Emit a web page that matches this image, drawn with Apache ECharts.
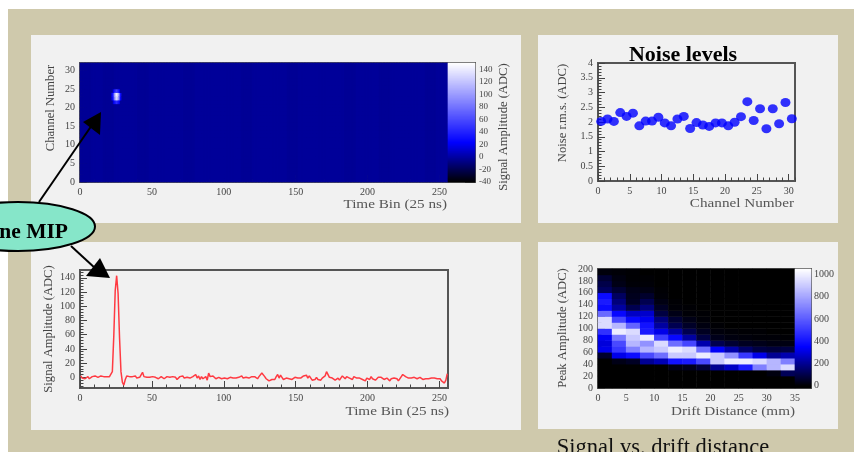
<!DOCTYPE html>
<html>
<head>
<meta charset="utf-8">
<style>html,body{margin:0;padding:0;background:#fff;overflow:hidden}#chart{width:854px;height:452px;filter:blur(0.75px)}</style>
<script src="https://cdn.jsdelivr.net/npm/echarts@6/dist/echarts.min.js"></script>
</head>
<body>
<div id="chart"></div>
<script>
// ---- data ----
const timeTicks = [0, 50, 100, 150, 200, 250];
const channelTicks = [0, 5, 10, 15, 20, 25, 30];
const ampBarTicks = [-40, -20, 0, 20, 40, 60, 80, 100, 120, 140];
const noiseTicks = [0, 0.5, 1, 1.5, 2, 2.5, 3, 3.5, 4];
const noiseChannelTicks = [0, 5, 10, 15, 20, 25, 30];
const waveTicks = [0, 20, 40, 60, 80, 100, 120, 140];
const driftXTicks = [0, 5, 10, 15, 20, 25, 30, 35];
const driftYTicks = [0, 20, 40, 60, 80, 100, 120, 140, 160, 180, 200];
const driftBarTicks = [0, 200, 400, 600, 800, 1000];

// estimated shade of each 8-bin stripe in the channel/time map
const stripeLevels = [-3,-2,-3,-2,-2,-3,-2,-2,-2,-3,-2,-2,-2,-2,-3,-2,-2,-2,-3,-2,-2,-2,-2,-3,-2,-2,-3,-2,-2,-2,-3,-2];
// [time bin, channel, amplitude]
const hotCells = [[22,22,20],[23,22,48],[24,22,104],[25,22,130],[26,22,122],[27,22,66],[28,22,26],
                  [22,23,24],[23,23,56],[24,23,116],[25,23,142],[26,23,134],[27,23,74],[28,23,30],
                  [23,21,18],[24,21,34],[25,21,44],[26,21,38],[27,21,20],
                  [23,24,20],[24,24,40],[25,24,54],[26,24,46],[27,24,22]];

const noiseRms = [2.02,2.10,2.02,2.32,2.19,2.30,1.87,2.03,2.03,2.16,1.97,1.87,2.10,2.19,1.78,1.98,
                  1.90,1.85,1.97,1.97,1.87,1.99,2.18,2.69,2.05,2.45,1.77,2.45,1.94,2.66,2.11];

const waveform = [
 2,-1,0,-2,-3,1,-2,-1,1,0,2,1,0,1,2,1,
 1,2,1,0,1,3,8,58,122,143,118,56,8,-7,-11,-3,
 2,0,1,-1,1,0,2,-1,1,0,2,7,1,-1,0,2,
 0,-1,1,3,0,1,-2,-1,1,0,-2,0,1,-1,0,2,
 1,-1,0,-3,-1,1,0,2,-1,-2,0,1,-1,-2,1,0,
 4,-1,2,-3,1,-2,-3,1,-4,6,1,-1,2,0,-2,-1,
 0,-1,-2,0,-1,-3,-2,-1,0,-2,-1,1,-1,-2,0,1,
 2,-1,1,0,-2,-1,0,1,-1,1,2,-2,1,2,6,7,
 1,-2,-4,-5,-6,-3,-1,-3,1,4,-1,3,0,-3,-2,-1,
 -3,-2,-1,-3,-1,0,-2,-1,1,-1,0,2,1,3,-1,2,
 1,-4,-2,-3,0,-3,-2,-4,-1,-3,2,8,6,0,-2,-1,
 -3,-4,-2,-1,-4,-3,2,1,-2,1,3,-1,-2,-3,1,2,
 -1,-2,-1,1,-3,-2,-5,-1,-2,-3,1,-2,0,-4,-3,0,
 2,0,-2,-3,-4,-1,-3,-5,-2,-4,-1,-3,-2,-5,-4,1,
 4,6,1,0,-1,0,-1,-2,0,-1,-2,-1,0,-2,-3,-1,
 -2,-1,-2,-3,-1,-2,-1,-3,-2,-4,-2,-5,-6,-8,-4,5];

// one list per drift column (2.5 mm wide), from amplitude bin 0-10 up to 190-200
const driftCol00 = [0,0,0,0,0,60,320,300,340,480,950,950,640,380,420,380,130,100,70,15];
const driftCol01 = [0,0,0,0,30,320,500,550,680,1000,850,540,370,220,170,130,70,30,20,10];
const driftCol02 = [0,0,0,0,50,380,700,850,900,950,620,370,270,110,50,40,30,10,5,5];
const driftCol03 = [0,0,0,0,200,550,850,750,1000,420,400,330,280,170,110,60,25,10,5,0];
const driftCol04 = [0,0,0,0,250,650,900,950,520,320,220,170,90,50,25,10,5,0,0,0];
const driftCol05 = [0,0,0,30,400,900,1000,650,370,220,110,70,30,10,5,0,0,0,0,0];
const driftCol06 = [0,0,0,40,420,900,950,540,220,110,55,30,10,5,0,0,0,0,0,0];
const driftCol07 = [0,0,0,80,550,1000,650,240,90,45,20,10,5,0,0,0,0,0,0,0];
const driftCol08 = [0,0,0,200,900,900,340,110,35,15,5,0,0,0,0,0,0,0,0,0];
const driftCol09 = [0,0,0,270,1000,750,230,70,20,10,0,0,0,0,0,0,0,0,0,0];
const driftCol10 = [0,0,0,420,1000,500,140,45,15,5,0,0,0,0,0,0,0,0,0,0];
const driftCol11 = [0,0,0,700,950,320,90,35,10,5,0,0,0,0,0,0,0,0,0,0];
const driftCol12 = [0,0,20,850,850,200,80,25,10,0,0,0,0,0,0,0,0,0,0,0];
const driftCol13 = [0,0,120,950,700,240,90,25,5,0,0,0,0,0,0,0,0,0,0,0];
const driftColumns = [driftCol00,driftCol01,driftCol02,driftCol03,driftCol04,driftCol05,driftCol06,
                      driftCol07,driftCol08,driftCol09,driftCol10,driftCol11,driftCol12,driftCol13];

// ---- styling / layout ----
const SERIF = '"Liberation Serif","Times New Roman",serif';
const FRAME = '#555';
const LABEL = '#444';
const GRIDS = [
  {left:80, top:63, width:368, height:119},
  {left:448,top:63, width:27,  height:119},
  {left:598,top:63, width:197, height:118},
  {left:80, top:270,width:368, height:118},
  {left:598,top:269,width:197, height:119},
  {left:795,top:269,width:16,  height:119}
];
const range = (a, b, step) => { const r = []; for (let v = a; v <= b + 1e-9; v += step) r.push(+v.toFixed(4)); return r; };
const ramp = (a, b, n) => Array.from({length:n}, (_, i) => a + (i + 0.5) * (b - a) / n);
const plain = v => String(v);

function major(dim, grid, min, max, ticks, extra) {
  return Object.assign({
    type:'value', gridIndex:grid, min, max, position: dim === 'x' ? 'bottom' : 'left',
    axisLine:{show:true, onZero:false, lineStyle:{color:FRAME, width:2}},
    axisTick:{show:true, inside:true, length:7, customValues:ticks, lineStyle:{color:'#444', width:1}},
    axisLabel:{show:true, customValues:ticks, formatter:plain, color:LABEL, fontFamily:SERIF, fontSize:10, margin:5, hideOverlap:false},
    splitLine:{show:false}
  }, extra || {});
}
function minor(dim, grid, min, max, ticks, position) {
  return {
    type:'value', gridIndex:grid, min, max, position: position || (dim === 'x' ? 'bottom' : 'left'),
    axisLine:{show:false, onZero:false},
    axisTick:{show:true, inside:true, length:3.5, customValues:ticks, lineStyle:{color:'#444', width:1}},
    axisLabel:{show:false}, splitLine:{show:false}
  };
}
const hiddenCat = (grid, n) => ({type:'category', gridIndex:grid, show:false, data:range(0, n - 1, 1)});

// channel / time map cells
const mapCells = [];
for (let b = 0; b < 256; b++) for (let c = 0; c < 32; c++) mapCells.push([b, c, stripeLevels[b >> 3]]);
hotCells.forEach(h => { mapCells[h[0] * 32 + h[1]][2] = h[2]; });

const ampScale = ramp(-40, 150, 119);
const driftScale = ramp(-20, 1050, 119);
const driftCells = [];
driftColumns.forEach((col, i) => col.forEach((v, j) => driftCells.push([i, j, v])));

const xAxes = [
  major('x',0,0,256,timeTicks), minor('x',0,0,256,range(0,250,10)), hiddenCat(0,256),
  hiddenCat(1,1),
  major('x',2,0,31,noiseChannelTicks), minor('x',2,0,31,range(0,31,1)),
  major('x',3,0,256,timeTicks), minor('x',3,0,256,range(0,250,10)),
  major('x',4,0,35,driftXTicks), minor('x',4,0,35,range(0,35,1)), hiddenCat(4,14),
  hiddenCat(5,1)
];
const yAxes = [
  major('y',0,0,32,channelTicks,{axisLabel:{customValues:channelTicks,formatter:plain,color:LABEL,fontFamily:SERIF,fontSize:10,margin:5,padding:[0,0,8,0]}}),
  minor('y',0,0,32,range(0,32,1)), hiddenCat(0,32),
  major('y',1,-40,150,ampBarTicks,{position:'right',axisTick:{show:true,inside:true,length:10,customValues:ampBarTicks,lineStyle:{color:'#333',width:1}},axisLabel:{customValues:ampBarTicks,formatter:plain,color:LABEL,fontFamily:SERIF,fontSize:9,margin:4}}),
  hiddenCat(1,ampScale.length),
  major('y',2,0,4,noiseTicks), minor('y',2,0,4,range(0,4,0.1)),
  major('y',3,-15,151,waveTicks), minor('y',3,-15,151,range(-12,148,4)),
  major('y',4,0,200,driftYTicks), minor('y',4,0,200,range(0,200,5)), hiddenCat(4,20),
  major('y',5,-20,1050,driftBarTicks,{position:'right',axisTick:{show:true,inside:true,length:6,customValues:driftBarTicks,lineStyle:{color:'#333',width:1}},axisLabel:{customValues:driftBarTicks,formatter:plain,color:LABEL,fontFamily:SERIF,fontSize:10,margin:3}}),
  hiddenCat(5,driftScale.length)
];

const idx = (arr, pred) => arr.findIndex(pred);
const xCat = g => idx(xAxes, a => a.gridIndex === g && a.type === 'category');
const yCat = g => idx(yAxes, a => a.gridIndex === g && a.type === 'category');
const xVal = g => idx(xAxes, a => a.gridIndex === g && a.type === 'value');
const yVal = g => idx(yAxes, a => a.gridIndex === g && a.type === 'value');

const heat = (g, data) => ({
  type:'heatmap', xAxisIndex:xCat(g), yAxisIndex:yCat(g), data, progressive:0, silent:true,
  emphasis:{disabled:true}, itemStyle:{borderWidth:0}
});

const axisTitle = (text, x, y) => ({type:'text', z:30, x, y, scaleX:1.32, style:{text, x:0, y:0, align:'right', verticalAlign:'middle', font:'11.5px '+SERIF, fill:'#555'}});
const vTitle = (text, x, y) => ({type:'text', z:30, x, y, rotation:Math.PI/2, style:{text, x:0, y:0, align:'center', verticalAlign:'middle', font:'12.6px '+SERIF, fill:'#444'}});
const panel = (x, y, w, h) => ({type:'rect', z:-9, silent:true, shape:{x, y, width:w, height:h}, style:{fill:'#f1f1f1'}});

const option = {
  animation:false,
  backgroundColor:'#fff',
  grid: GRIDS.map((g, i) => Object.assign({show:true, borderColor:FRAME, borderWidth:2, backgroundColor: i === 0 ? '#08089c' : 'transparent', containLabel:false}, g)),
  xAxis:xAxes,
  yAxis:yAxes,
  visualMap:[
    {show:false, type:'continuous', seriesIndex:[0,1], dimension:2, min:-40, max:150, inRange:{color:['#000000','#0000ff','#8080ff','#ffffff']}},
    {show:false, type:'continuous', seriesIndex:[4,5], dimension:2, min:0, max:1050, inRange:{color:['#000000','#0000ff','#8080ff','#ffffff']}}
  ],
  series:[
    heat(0, mapCells),
    heat(1, ampScale.map((v, i) => [0, i, v])),
    {type:'scatter', xAxisIndex:xVal(2), yAxisIndex:yVal(2), symbol:'circle', symbolSize:[10,9], silent:true,
     itemStyle:{color:'#0000ff'}, data:noiseRms.map((v, i) => [i + 0.5, v])},
    {type:'line', xAxisIndex:xVal(3), yAxisIndex:yVal(3), showSymbol:false, silent:true,
     lineStyle:{color:'#ff3a42', width:1.5}, data:waveform.map((v, i) => [i + 0.5, v])},
    heat(4, driftCells),
    heat(5, driftScale.map((v, i) => [0, i, v]))
  ],
  graphic:{elements:[
    {type:'rect', z:-10, silent:true, shape:{x:8,y:9,width:846,height:443}, style:{fill:'#cfc9ac'}},
    panel(31,35,490,188), panel(538,35,300,188), panel(31,242,490,188), panel(538,242,300,187),
    axisTitle('Time Bin (25 ns)', 447, 205),
    axisTitle('Time Bin (25 ns)', 449, 412),
    axisTitle('Channel Number', 794, 204),
    axisTitle('Drift Distance (mm)', 795, 412),
    vTitle('Channel Number', 51, 108),
    vTitle('Signal Amplitude (ADC)', 504, 127),
    vTitle('Noise r.m.s. (ADC)', 563, 113),
    vTitle('Signal Amplitude (ADC)', 49, 329),
    vTitle('Peak Amplitude (ADC)', 563, 328),
    {type:'text', z:40, style:{text:'Noise levels', x:683, y:55, align:'center', verticalAlign:'middle', font:'bold 22px '+SERIF, fill:'#000'}},
    {type:'text', z:40, style:{text:'Signal vs. drift distance', x:663, y:448, align:'center', verticalAlign:'middle', font:'22.5px '+SERIF, fill:'#111'}},
    {type:'line', z:41, shape:{x1:39,y1:202,x2:92,y2:125}, style:{stroke:'#000',lineWidth:2}},
    {type:'polygon', z:41, shape:{points:[[101,112],[83,122],[100,135]]}, style:{fill:'#000'}},
    {type:'line', z:41, shape:{x1:71,y1:246,x2:96,y2:269}, style:{stroke:'#000',lineWidth:2}},
    {type:'polygon', z:41, shape:{points:[[110,278],[100,258],[86,276]]}, style:{fill:'#000'}},
    {type:'ellipse', z:42, shape:{cx:18,cy:226.5,rx:77,ry:24.5}, style:{fill:'#86e6c9',stroke:'#000',lineWidth:2}},
    {type:'text', z:43, style:{text:'One MIP', x:68, y:232, align:'right', verticalAlign:'middle', font:'bold 21.5px '+SERIF, fill:'#000'}}
  ]}
};
echarts.init(document.getElementById('chart'), null, {renderer:'canvas'}).setOption(option);
</script>
</body>
</html>
